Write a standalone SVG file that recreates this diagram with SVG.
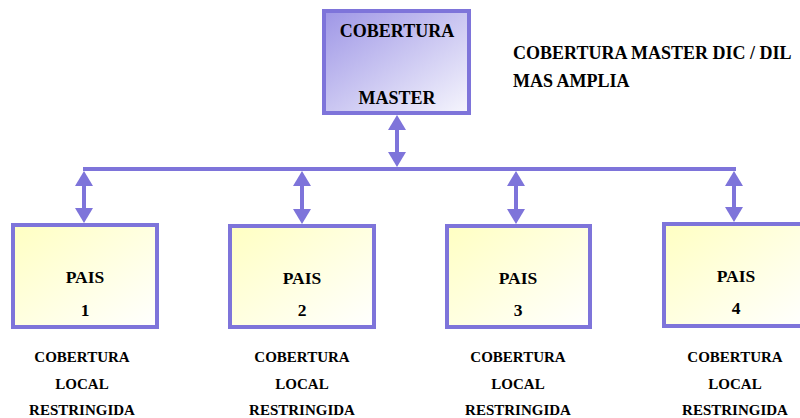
<svg xmlns="http://www.w3.org/2000/svg" width="800" height="418" viewBox="0 0 800 418">
  <defs>
    <linearGradient id="gMaster" x1="0" y1="0" x2="1" y2="1">
      <stop offset="0" stop-color="#9E96E6"/>
      <stop offset="1" stop-color="#F6F6FD"/>
    </linearGradient>
    <linearGradient id="gPais" x1="0" y1="0" x2="1" y2="1">
      <stop offset="0" stop-color="#FFFFC2"/>
      <stop offset="1" stop-color="#FFFFFF"/>
    </linearGradient>
    <marker id="head" markerUnits="userSpaceOnUse" viewBox="0 0 15 18" refX="0" refY="9" markerWidth="15" markerHeight="18" orient="auto-start-reverse">
      <path d="M0,0 L15,9 L0,18 z" fill="#7E74DA"/>
    </marker>
  </defs>
  <style>
    .box { stroke: #7E74DA; stroke-width: 4; }
    .conn { stroke: #7E74DA; stroke-width: 4; fill: none; }
    .arr { stroke: #7E74DA; stroke-width: 4; fill: none; marker-start: url(#head); marker-end: url(#head); }
    text { font-family: "Liberation Serif", "Times New Roman", serif; font-weight: bold; fill: #000; }
    .big { font-size: 18px; }
    .mid { font-size: 17.5px; text-anchor: middle; }
    .small { font-size: 15px; text-anchor: middle; }
  </style>

  <g id="connectors">
    <line class="conn" x1="83" y1="169" x2="736" y2="169"/>
    <line class="arr" x1="397" y1="130" x2="397" y2="152"/>
    <line class="arr" x1="84" y1="186" x2="84" y2="208"/>
    <line class="arr" x1="302" y1="186" x2="302" y2="209"/>
    <line class="arr" x1="516" y1="186" x2="516" y2="209"/>
    <line class="arr" x1="734" y1="186" x2="734" y2="207"/>
  </g>

  <g id="master">
    <rect class="box" x="324" y="11" width="145" height="102" fill="url(#gMaster)"/>
    <text class="big" x="397" y="37" text-anchor="middle">COBERTURA</text>
    <text class="big" x="397" y="104" text-anchor="middle">MASTER</text>
  </g>

  <g id="master-note">
    <text class="big" x="513" y="59">COBERTURA MASTER DIC / DIL</text>
    <text class="big" x="513" y="87">MAS AMPLIA</text>
  </g>

  <g id="pais1">
    <rect class="box" x="13" y="225" width="144" height="102" fill="url(#gPais)"/>
    <text class="mid" x="85" y="283">PAIS</text>
    <text class="mid" x="85" y="316">1</text>
    <text class="small" x="82" y="362">COBERTURA</text>
    <text class="small" x="82" y="389">LOCAL</text>
    <text class="small" x="82" y="415">RESTRINGIDA</text>
  </g>

  <g id="pais2">
    <rect class="box" x="230" y="226" width="144" height="101" fill="url(#gPais)"/>
    <text class="mid" x="302" y="284">PAIS</text>
    <text class="mid" x="302" y="316">2</text>
    <text class="small" x="302" y="362">COBERTURA</text>
    <text class="small" x="302" y="389">LOCAL</text>
    <text class="small" x="302" y="415">RESTRINGIDA</text>
  </g>

  <g id="pais3">
    <rect class="box" x="447" y="226" width="143" height="101" fill="url(#gPais)"/>
    <text class="mid" x="518" y="284">PAIS</text>
    <text class="mid" x="518" y="316">3</text>
    <text class="small" x="518" y="362">COBERTURA</text>
    <text class="small" x="518" y="389">LOCAL</text>
    <text class="small" x="518" y="415">RESTRINGIDA</text>
  </g>

  <g id="pais4">
    <rect class="box" x="664" y="224" width="144" height="102" fill="url(#gPais)"/>
    <text class="mid" x="736" y="282">PAIS</text>
    <text class="mid" x="736" y="314">4</text>
    <text class="small" x="735" y="362">COBERTURA</text>
    <text class="small" x="735" y="389">LOCAL</text>
    <text class="small" x="735" y="415">RESTRINGIDA</text>
  </g>
</svg>
